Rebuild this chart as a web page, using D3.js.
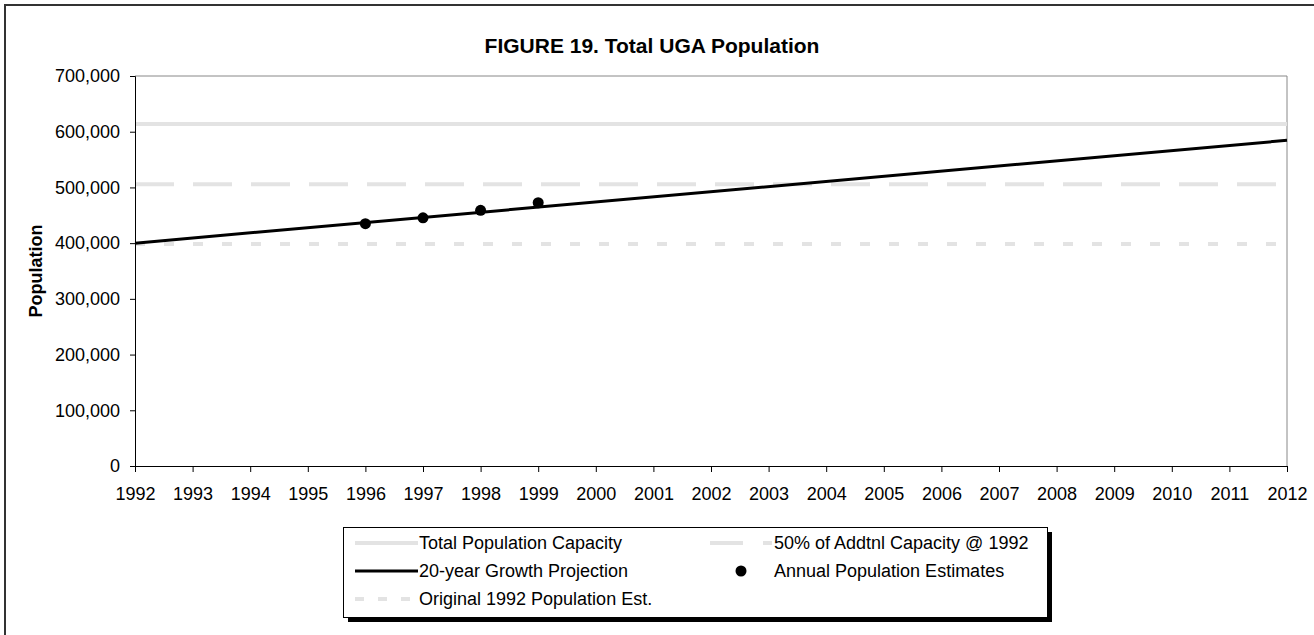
<!DOCTYPE html>
<html lang="en">
<head>
  <meta charset="UTF-8">
  <title>FIGURE 19. Total UGA Population</title>
  <style>
    body { margin: 0; background: #fff; }
    text { font-family: "Liberation Sans", Arial, sans-serif; }
  </style>
</head>
<body>

<svg id="chart" width="1314" height="635"></svg>

<script src="https://d3js.org/d3.v7.min.js"></script>

<script>

    // chart values
    var yearTicks = [1992, 1993, 1994, 1995, 1996, 1997, 1998, 1999, 2000, 2001, 2002,
                     2003, 2004, 2005, 2006, 2007, 2008, 2009, 2010, 2011, 2012];
    var popTicks = [0, 100000, 200000, 300000, 400000, 500000, 600000, 700000];

    var totalCapacity = 614000;
    var halfAddtnlCapacity = 505500;
    var original1992 = 398500;

    var projectionYears = [1992, 2012];
    var projectionValues = [400000, 584500];

    var estimateYears = [1996, 1997, 1998, 1999];
    var estimateValues = [435000, 445500, 459000, 472500];

    var legendLabels = ["Total Population Capacity", "50% of Addtnl Capacity @ 1992",
                        "20-year Growth Projection", "Annual Population Estimates",
                        "Original 1992 Population Est."];

    var svg = d3.select("#chart"),
        plotL = 135, plotR = 1287, plotT = 76, plotB = 466,
        lightGrey = "#e3e3e3",
        fmt = d3.format(",");

    var x = d3.scaleLinear().domain([1992, 2012]).range([plotL, plotR]),
        y = d3.scaleLinear().domain([0, 700000]).range([plotB, plotT]);

    // outer chart frame (runs off the right and bottom edge)
    svg.append("rect")
      .attr("x", 5).attr("y", 5)
      .attr("width", 1330).attr("height", 650)
      .attr("fill", "none")
      .attr("stroke", "#333")
      .attr("stroke-width", 2);

    svg.append("text")
      .attr("x", 652).attr("y", 53)
      .attr("text-anchor", "middle")
      .attr("font-size", 21)
      .attr("font-weight", "bold")
      .text("FIGURE 19. Total UGA Population");

    // top and right plot border
    svg.append("path")
      .attr("d", "M" + plotL + "," + plotT + "H" + plotR + "V" + plotB)
      .attr("fill", "none")
      .attr("stroke", "#888")
      .attr("stroke-width", 1);

    // reference lines
    var refs = [
      { v: totalCapacity, dash: null },
      { v: halfAddtnlCapacity, dash: "39,19" },
      { v: original1992, dash: "10,19" }
    ];
    svg.selectAll(".ref").data(refs).enter().append("line")
      .attr("class", "ref")
      .attr("x1", x(1992)).attr("x2", x(2012))
      .attr("y1", function (d) { return y(d.v); })
      .attr("y2", function (d) { return y(d.v); })
      .attr("stroke", lightGrey)
      .attr("stroke-width", 4)
      .attr("stroke-dasharray", function (d) { return d.dash; });

    // axes
    var xAxis = svg.append("g")
      .attr("transform", "translate(0," + plotB + ")")
      .call(d3.axisBottom(x).tickValues(yearTicks).tickFormat(d3.format("d")).tickSize(6).tickPadding(15));
    var yAxis = svg.append("g")
      .attr("transform", "translate(" + plotL + ",0)")
      .call(d3.axisLeft(y).tickValues(popTicks).tickFormat(fmt).tickSize(5).tickPadding(10));

    [xAxis, yAxis].forEach(function (g) {
      g.selectAll("text").attr("font-size", 18).attr("fill", "#000")
        .attr("font-family", "'Liberation Sans', Arial, sans-serif");
      g.selectAll("line, path").attr("stroke", "#000");
    });

    svg.append("text")
      .attr("transform", "translate(42," + ((plotT + plotB) / 2) + ") rotate(-90)")
      .attr("text-anchor", "middle")
      .attr("font-size", 18)
      .attr("font-weight", "bold")
      .text("Population");

    // projection line
    var line = d3.line()
      .x(function (d) { return x(d[0]); })
      .y(function (d) { return y(d[1]); });
    svg.append("path")
      .datum(d3.zip(projectionYears, projectionValues))
      .attr("d", line)
      .attr("fill", "none")
      .attr("stroke", "#000")
      .attr("stroke-width", 3);

    // estimates
    svg.selectAll(".est").data(d3.zip(estimateYears, estimateValues)).enter().append("circle")
      .attr("class", "est")
      .attr("cx", function (d) { return x(d[0]); })
      .attr("cy", function (d) { return y(d[1]); })
      .attr("r", 5.5)
      .attr("fill", "#000");

    // legend
    var lg = svg.append("g");
    lg.append("rect")
      .attr("x", 348).attr("y", 532).attr("width", 704).attr("height", 90)
      .attr("fill", "#000");
    lg.append("rect")
      .attr("x", 343.5).attr("y", 527.5).attr("width", 704).attr("height", 90)
      .attr("fill", "#fff").attr("stroke", "#000").attr("stroke-width", 1);

    var items = [
      { label: legendLabels[0], col: 0, row: 0, kind: "line", color: lightGrey, w: 4, dash: null },
      { label: legendLabels[1], col: 1, row: 0, kind: "line", color: lightGrey, w: 4, dash: "33,20,9" },
      { label: legendLabels[2], col: 0, row: 1, kind: "line", color: "#000", w: 3, dash: null },
      { label: legendLabels[3], col: 1, row: 1, kind: "dot" },
      { label: legendLabels[4], col: 0, row: 2, kind: "line", color: lightGrey, w: 4, dash: "9,14" }
    ];
    var colX = [355, 710], rowY = [543, 571, 599];

    items.forEach(function (it) {
      var x0 = colX[it.col], yy = rowY[it.row];
      if (it.kind === "line") {
        lg.append("line")
          .attr("x1", x0).attr("x2", x0 + 63)
          .attr("y1", yy).attr("y2", yy)
          .attr("stroke", it.color).attr("stroke-width", it.w)
          .attr("stroke-dasharray", it.dash);
      } else {
        lg.append("circle").attr("cx", x0 + 31).attr("cy", yy).attr("r", 5.5).attr("fill", "#000");
      }
      lg.append("text")
        .attr("x", x0 + 64).attr("y", yy)
        .attr("dy", "0.35em")
        .attr("font-size", 18)
        .text(it.label);
    });

</script>

</body>
</html>
